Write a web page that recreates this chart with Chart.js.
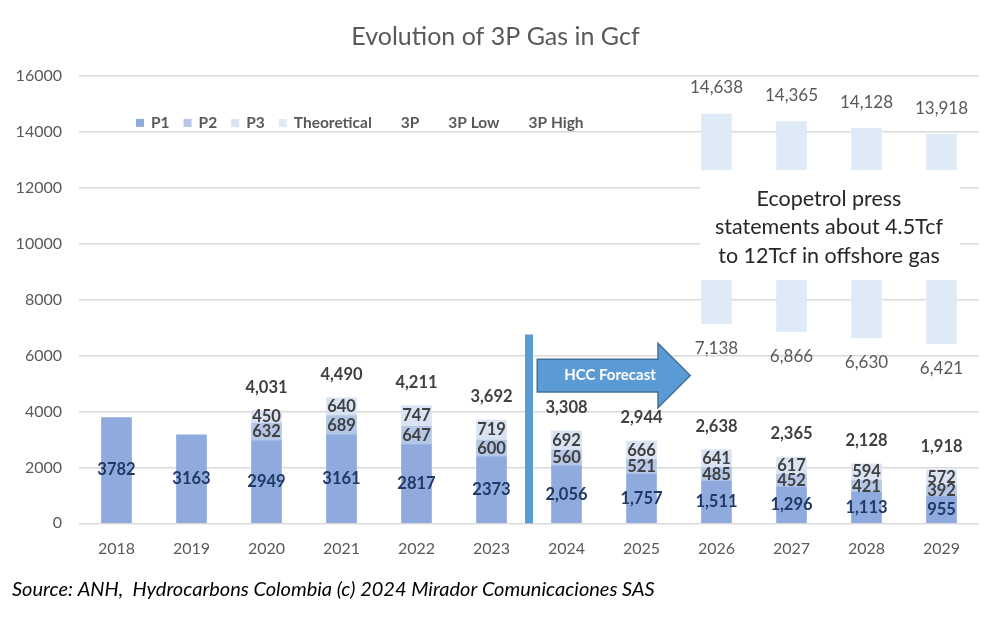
<!DOCTYPE html>
<html>
<head>
<meta charset="utf-8">
<title>Evolution of 3P Gas in Gcf</title>
<script src="https://cdn.jsdelivr.net/npm/chart.js@4.4.0/dist/chart.umd.min.js"></script>
<style>
  html, body { margin: 0; padding: 0; background: #fff; }
  #wrap { width: 1004px; height: 620px; position: relative; }
</style>
</head>
<body>
<div id="wrap"><canvas id="gas-chart"></canvas></div>
<script>
// Data (Gcf)
const years = ['2018', '2019', '2020', '2021', '2022', '2023', '2024', '2025', '2026', '2027', '2028', '2029'];
const p1Values = [3782, 3163, 2949, 3161, 2817, 2373, 2056, 1757, 1511, 1296, 1113, 955];
const p2Values = [null, null, 632, 689, 647, 600, 560, 521, 485, 452, 421, 392];
const p3Values = [null, null, 450, 640, 747, 719, 692, 666, 641, 617, 594, 572];
const total3P = [null, null, 4031, 4490, 4211, 3692, 3308, 2944, 2638, 2365, 2128, 1918];
const low3P = [null, null, null, null, null, null, null, null, 7138, 6866, 6630, 6421];
const high3P = [null, null, null, null, null, null, null, null, 14638, 14365, 14128, 13918];
const yMin = 0;
const yMax = 16000;
const yStep = 2000;
const firstForecast = 6; // 2024
const noteLines = ['Ecopetrol press', 'statements about 4.5Tcf', 'to 12Tcf in offshore gas'];
const forecastText = 'HCC Forecast';
const sourceText = 'Source: ANH,  Hydrocarbons Colombia (c) 2024 Mirador Comunicaciones SAS';

// theoretical range = floating bar from 3P Low to 3P High
const theoreticalRange = low3P.map((v, i) => (v == null ? null : [v, high3P[i]]));

const FONT = 'Lato, Carlito, Calibri, "Noto Sans", sans-serif';
Chart.defaults.font.family = FONT;

// P1 history is shown without thousands separator, everything else with it
function fmt(v, i, alwaysComma) {
  return (alwaysComma || i >= firstForecast) ? v.toLocaleString('en-US') : String(v);
}

// Draws value labels, the note box, the forecast arrow and the legend
const decorPlugin = {
  id: 'decor',
  afterDatasetsDraw(chart) {
    const ctx = chart.ctx;
    const xs = chart.scales.x;
    const ys = chart.scales.y;
    ctx.save();

    // white note box that hides the middle of the theoretical bars
    const bx1 = xs.getPixelForValue(7.78), bx2 = xs.getPixelForValue(11.25);
    const by1 = ys.getPixelForValue(12630), by2 = ys.getPixelForValue(8700);
    ctx.fillStyle = '#ffffff';
    ctx.fillRect(bx1, by1, bx2 - bx1, by2 - by1);
    ctx.fillStyle = '#262626';
    ctx.font = '21.5px ' + FONT;
    ctx.textAlign = 'center';
    ctx.textBaseline = 'middle';
    const nx = xs.getPixelForValue(9.5);
    const ny = ys.getPixelForValue(10594);
    noteLines.forEach((line, k) => {
      ctx.fillText(line, nx, ny + (k - 1) * 28.5);
    });

    // value labels
    chart.data.datasets.forEach((ds, di) => {
      if (!ds.labelColor) return;
      const meta = chart.getDatasetMeta(di);
      ctx.font = (ds.labelBold ? 'bold ' : '') + ds.labelSize + 'px ' + FONT;
      ctx.fillStyle = ds.labelColor;
      meta.data.forEach((el, i) => {
        const v = ds.data[i];
        if (v == null) return;
        let py;
        if (ds.type === 'line') {
          py = el.y + ds.labelOffset;
        } else {
          py = (el.y + el.base) / 2;
        }
        ctx.fillText(fmt(v, i, ds.type === 'line'), el.x, py);
      });
    });

    // forecast divider
    const lx = xs.getPixelForValue(5.5);
    ctx.fillStyle = '#5b9bd5';
    const ly1 = ys.getPixelForValue(6750), ly2 = ys.getPixelForValue(0);
    ctx.fillRect(lx - 4, ly1, 8, ly2 - ly1);

    // forecast arrow
    const arrow = [[5.61, 5870], [7.22, 5870], [7.22, 6435], [7.65, 5285],
                   [7.22, 4135], [7.22, 4700], [5.61, 4700]];
    ctx.beginPath();
    arrow.forEach((p, k) => {
      const px = xs.getPixelForValue(p[0]);
      const py = ys.getPixelForValue(p[1]);
      if (k === 0) ctx.moveTo(px, py); else ctx.lineTo(px, py);
    });
    ctx.closePath();
    ctx.fillStyle = '#5b9bd5';
    ctx.fill();
    ctx.lineWidth = 1.5;
    ctx.strokeStyle = '#41719c';
    ctx.stroke();
    ctx.fillStyle = '#ffffff';
    ctx.font = 'bold 15px ' + FONT;
    ctx.fillText(forecastText, xs.getPixelForValue(6.58), ys.getPixelForValue(5285));

    // legend inside the plot area
    const area = chart.chartArea;
    let lxPos = area.left + 57;
    const lyPos = area.top + 47;
    ctx.font = 'bold 15.5px ' + FONT;
    ctx.textAlign = 'left';
    chart.data.datasets.forEach(ds => {
      if (ds.type !== 'line') {
        ctx.fillStyle = ds.backgroundColor;
        ctx.fillRect(lxPos, lyPos - 4, 8, 8);
      }
      lxPos += 15;
      ctx.fillStyle = '#595959';
      ctx.fillText(ds.label, lxPos, lyPos);
      lxPos += ctx.measureText(ds.label).width + 14;
    });

    ctx.restore();
  }
};

const ctx = document.getElementById('gas-chart').getContext('2d');
const gasChart = new Chart(ctx, {
  type: 'bar',
  data: {
    labels: years,
    datasets: [
      { label: 'P1', data: p1Values, backgroundColor: '#8faadc', stack: 'reserves',
        labelColor: '#1f3864', labelBold: true, labelSize: 16.5 },
      { label: 'P2', data: p2Values, backgroundColor: '#b4c7e7', stack: 'reserves',
        labelColor: '#404040', labelBold: true, labelSize: 16.5 },
      { label: 'P3', data: p3Values, backgroundColor: '#dae3f3', stack: 'reserves',
        labelColor: '#404040', labelBold: true, labelSize: 16.5 },
      { label: 'Theoretical', data: theoreticalRange, backgroundColor: '#deebf7',
        stack: 'theoretical', grouped: false },
      { type: 'line', label: '3P', data: total3P, stack: 'total', showLine: false,
        pointRadius: 0, labelColor: '#404040', labelBold: true, labelSize: 16.5, labelOffset: -23 },
      { type: 'line', label: '3P Low', data: low3P, stack: 'low', showLine: false,
        pointRadius: 0, labelColor: '#595959', labelBold: false, labelSize: 17, labelOffset: 25 },
      { type: 'line', label: '3P High', data: high3P, stack: 'high', showLine: false,
        pointRadius: 0, labelColor: '#595959', labelBold: false, labelSize: 17, labelOffset: -26 },
    ],
  },
  options: {
    responsive: true,
    maintainAspectRatio: false,
    animation: false,
    barThickness: 30,
    layout: { padding: { left: 12, right: 25, top: 0, bottom: 0 } },
    scales: {
      x: {
        stacked: true,
        grid: { display: false },
        border: { display: false },
        ticks: { color: '#595959', font: { size: 16 }, padding: 8 },
        afterFit: s => { s.height = 38; },
      },
      y: {
        stacked: true,
        min: yMin,
        max: yMax,
        grid: { color: '#d9d9d9', lineWidth: 1.5, drawTicks: false },
        border: { display: false },
        ticks: { stepSize: yStep, color: '#595959', font: { size: 16 }, padding: 17,
                 callback: v => v },
        afterFit: s => { s.width = 67; },
      },
    },
    plugins: {
      legend: { display: false },
      tooltip: { enabled: false },
      title: {
        display: true,
        text: 'Evolution of 3P Gas in Gcf',
        color: '#595959',
        font: { size: 25, weight: 'normal' },
        padding: { top: 21.8, bottom: 24.1 },
      },
      subtitle: {
        display: true,
        position: 'bottom',
        align: 'start',
        text: sourceText,
        color: '#000000',
        font: { size: 20, style: 'italic', weight: 'normal' },
        padding: { top: 16.7, bottom: 18 },
      },
    },
  },
  plugins: [decorPlugin],
});
</script>
</body>
</html>
